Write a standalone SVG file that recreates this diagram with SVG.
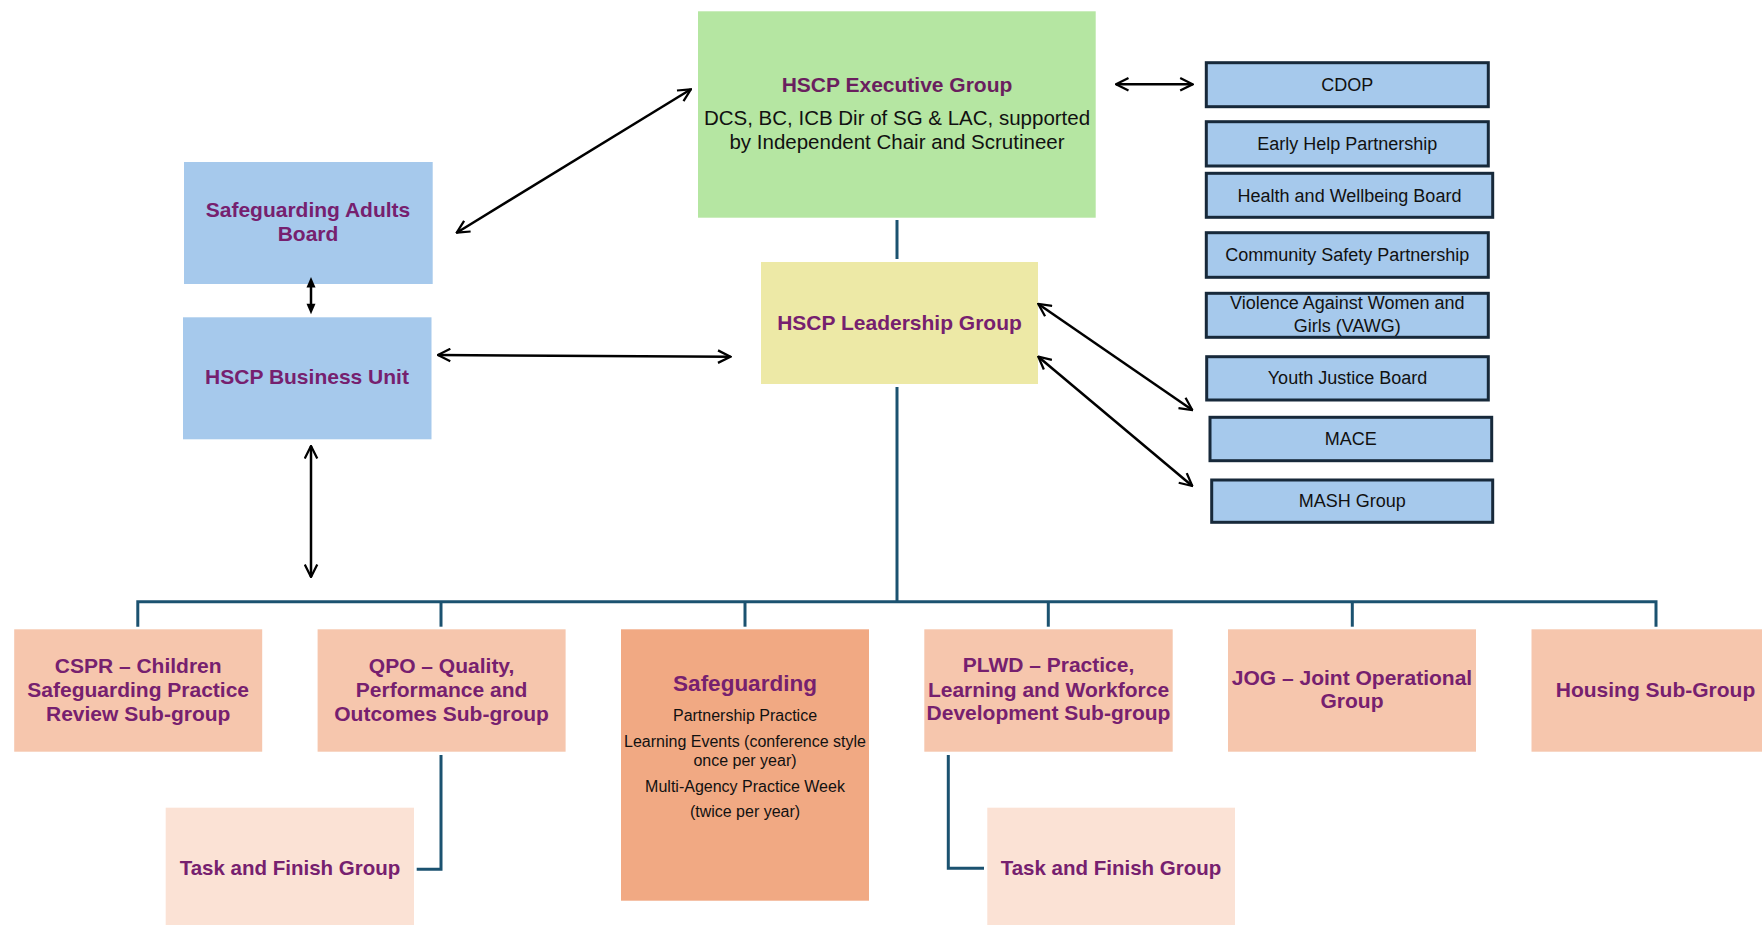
<svg xmlns="http://www.w3.org/2000/svg" width="1762" height="925" viewBox="0 0 1762 925">
<style>
  text { font-family: "Liberation Sans", Arial, sans-serif; text-anchor: middle; }
  .t { font-weight: bold; font-size: 21px; fill: #76206F; }
  .ex { font-weight: bold; font-size: 21px; fill: #6A1F5E; }
  .d { font-size: 20.5px; fill: #111111; }
  .s { font-size: 18px; fill: #111111; }
  .sg { font-size: 16px; fill: #111111; }
  .rb { fill: #A6C9EC; stroke: #17293A; stroke-width: 3; }
  .blue { fill: #A6C9EC; }
  .sub { fill: #F6C6AD; }
  .tf { fill: #FBE2D5; }
  .arr { fill: none; stroke: #000000; stroke-width: 2.5; marker-start: url(#oa); marker-end: url(#oa); }
  .tree { fill: none; stroke: #1B5270; stroke-width: 3; }
</style>
<defs>
  <marker id="oa" viewBox="0 0 12 12" markerUnits="userSpaceOnUse" markerWidth="15" markerHeight="15" refX="11" refY="6" orient="auto-start-reverse">
    <path d="M1,1 L11,6 L1,11" fill="none" stroke="#000000" stroke-width="1.8"/>
  </marker>
</defs>
<rect width="1762" height="925" fill="#ffffff"/>

<g id="exec">
  <rect x="698" y="11.3" width="397.7" height="206.4" fill="#B5E6A2"/>
  <text class="ex" x="897" y="92">HSCP Executive Group</text>
  <text class="d" x="897" y="125">DCS, BC, ICB Dir of SG &amp; LAC, supported</text>
  <text class="d" x="897" y="149">by Independent Chair and Scrutineer</text>
</g>
<g id="leadership">
  <rect x="761" y="262" width="277" height="122" fill="#EDE9A6"/>
  <text class="t" x="899.5" y="330">HSCP Leadership Group</text>
</g>
<g id="sab">
  <rect class="blue" x="184" y="162" width="248.7" height="122"/>
  <text class="t" x="308" y="216.7">Safeguarding Adults</text>
  <text class="t" x="308" y="241">Board</text>
</g>
<g id="bu">
  <rect class="blue" x="183" y="317.3" width="248.5" height="122"/>
  <text class="t" x="307" y="384.3">HSCP Business Unit</text>
</g>

<g id="cdop">
  <rect class="rb" x="1206.3" y="62.7" width="282" height="44"/>
  <text class="s" x="1347.3" y="91">CDOP</text>
</g>
<g id="early-help">
  <rect class="rb" x="1206.3" y="121.7" width="282" height="44.3"/>
  <text class="s" x="1347.3" y="150">Early Help Partnership</text>
</g>
<g id="hwb">
  <rect class="rb" x="1206.3" y="173.3" width="286.4" height="44"/>
  <text class="s" x="1349.5" y="201.7">Health and Wellbeing Board</text>
</g>
<g id="csp">
  <rect class="rb" x="1206.3" y="232.7" width="282" height="44.6"/>
  <text class="s" x="1347.3" y="261">Community Safety Partnership</text>
</g>
<g id="vawg">
  <rect class="rb" x="1206.3" y="293.3" width="282" height="44"/>
  <text class="s" x="1347.3" y="309.3">Violence Against Women and</text>
  <text class="s" x="1347.3" y="331.7">Girls (VAWG)</text>
</g>
<g id="yjb">
  <rect class="rb" x="1206.7" y="356.7" width="281.6" height="43.3"/>
  <text class="s" x="1347.5" y="384.3">Youth Justice Board</text>
</g>
<g id="mace">
  <rect class="rb" x="1210" y="417.3" width="281.7" height="43.4"/>
  <text class="s" x="1350.8" y="445">MACE</text>
</g>
<g id="mash">
  <rect class="rb" x="1211.7" y="480" width="281" height="42.3"/>
  <text class="s" x="1352.2" y="507.3">MASH Group</text>
</g>

<g id="cspr">
  <rect class="sub" x="14.2" y="629.3" width="248" height="122.4"/>
  <text class="t" x="138.2" y="672.7">CSPR – Children</text>
  <text class="t" x="138.2" y="696.7">Safeguarding Practice</text>
  <text class="t" x="138.2" y="721">Review Sub-group</text>
</g>
<g id="qpo">
  <rect class="sub" x="317.6" y="629.3" width="248" height="122.4"/>
  <text class="t" x="441.6" y="672.7">QPO – Quality,</text>
  <text class="t" x="441.6" y="696.7">Performance and</text>
  <text class="t" x="441.6" y="721">Outcomes Sub-group</text>
</g>
<g id="safeguarding">
  <rect x="621" y="629.3" width="248" height="271.4" fill="#F1A983"/>
  <text class="t" x="745" y="691" style="font-size:22.5px">Safeguarding</text>
  <text class="sg" x="745" y="721">Partnership Practice</text>
  <text class="sg" x="745" y="747.3">Learning Events (conference style</text>
  <text class="sg" x="745" y="765.7">once per year)</text>
  <text class="sg" x="745" y="792.3">Multi-Agency Practice Week</text>
  <text class="sg" x="745" y="816.7">(twice per year)</text>
</g>
<g id="plwd">
  <rect class="sub" x="924.3" y="629.3" width="248.4" height="122.4"/>
  <text class="t" x="1048.5" y="671.7">PLWD – Practice,</text>
  <text class="t" x="1048.5" y="696.7">Learning and Workforce</text>
  <text class="t" x="1048.5" y="720">Development Sub-group</text>
</g>
<g id="jog">
  <rect class="sub" x="1228" y="629.3" width="248" height="122.4"/>
  <text class="t" x="1352" y="685">JOG – Joint Operational</text>
  <text class="t" x="1352" y="708.3">Group</text>
</g>
<g id="housing">
  <rect class="sub" x="1531.5" y="629.3" width="248" height="122.4"/>
  <text class="t" x="1655.5" y="696.7">Housing Sub-Group</text>
</g>
<g id="task1">
  <rect class="tf" x="165.7" y="807.7" width="248.3" height="125"/>
  <text class="t" x="290" y="875" style="font-size:20.5px">Task and Finish Group</text>
</g>
<g id="task2">
  <rect class="tf" x="987.3" y="807.7" width="247.7" height="125"/>
  <text class="t" x="1111" y="875" style="font-size:20.5px">Task and Finish Group</text>
</g>

<g id="connectors">
  <line class="tree" x1="897" y1="220" x2="897" y2="259"/>
  <line class="tree" x1="897" y1="387" x2="897" y2="601.7"/>
  <path class="tree" d="M137.8,626.7 V601.7 H1656 V626.7"/>
  <line class="tree" x1="441" y1="601.7" x2="441" y2="626.7"/>
  <line class="tree" x1="745" y1="601.7" x2="745" y2="626.7"/>
  <line class="tree" x1="1048.3" y1="601.7" x2="1048.3" y2="626.7"/>
  <line class="tree" x1="1352.3" y1="601.7" x2="1352.3" y2="626.7"/>
  <path class="tree" d="M441,755 V869.3 H416.7"/>
  <path class="tree" d="M948.3,755 V868.3 H984"/>
  <line class="arr" x1="456.7" y1="232.7" x2="690.9" y2="89.3"/>
  <g id="sab-bu-arrow">
    <line x1="311" y1="285" x2="311" y2="306" stroke="#000000" stroke-width="2.5"/>
    <polygon points="311,277 306.5,287.5 315.5,287.5" fill="#000000"/>
    <polygon points="311,314.3 306.5,303.8 315.5,303.8" fill="#000000"/>
  </g>
  <line class="arr" x1="437.8" y1="355" x2="730.5" y2="356.7"/>
  <line class="arr" x1="1116" y1="84.3" x2="1192.7" y2="84.3"/>
  <line class="arr" x1="1038.3" y1="304" x2="1192.3" y2="410"/>
  <line class="arr" x1="1038.3" y1="356.7" x2="1192.3" y2="486"/>
  <line class="arr" x1="311" y1="446" x2="311" y2="577"/>
</g>
</svg>
